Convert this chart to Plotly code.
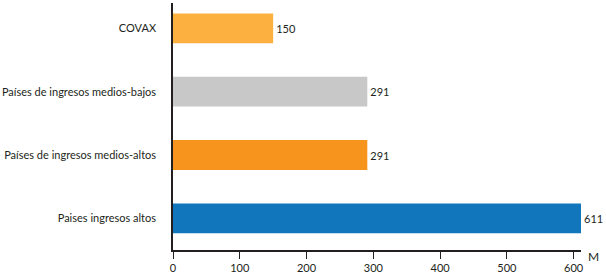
import plotly.graph_objects as go

categories = ["Paises ingresos altos", "Países de ingresos medios-altos",
              "Países de ingresos medios-bajos", "COVAX"]
values = [611, 291, 291, 150]
colors = ["#1176BC", "#F7941D", "#C8C8C9", "#FBB040"]
tick_vals = [0, 100, 200, 300, 400, 500, 600]
unit_label = "M"

fig = go.Figure(go.Bar(
    y=categories, x=values, orientation="h",
    marker=dict(color=colors, line=dict(width=0)),
    text=[str(v) for v in values], textposition="outside",
    textfont=dict(color="#231F20", size=11),
    cliponaxis=False, hoverinfo="skip",
))

fig.update_layout(
    width=606, height=274,
    margin=dict(l=173, r=25, t=3, b=24, autoexpand=False),
    plot_bgcolor="white", paper_bgcolor="white",
    font=dict(family="Lato", size=11, color="#231F20"),
    bargap=0.53,
    showlegend=False,
    xaxis=dict(range=[0, 611], tickvals=tick_vals, ticks="outside", ticklen=7,
               tickcolor="#231F20", showline=True, linecolor="#231F20", linewidth=1.5,
               showgrid=False, zeroline=False, automargin=False),
    yaxis=dict(range=[-0.5, 3.4], showline=True, linecolor="#231F20", linewidth=1.5,
               ticks="", ticklabelstandoff=13, showgrid=False, zeroline=False,
               automargin=False),
    annotations=[dict(text=unit_label, xref="paper", yref="paper", x=1, y=0,
                      xanchor="left", yanchor="middle", xshift=5, yshift=-6,
                      showarrow=False, font=dict(size=12, color="#231F20"))],
)

fig.write_html("out.html", config={"displayModeBar": False},
               post_script="document.body.style.margin='0';")
